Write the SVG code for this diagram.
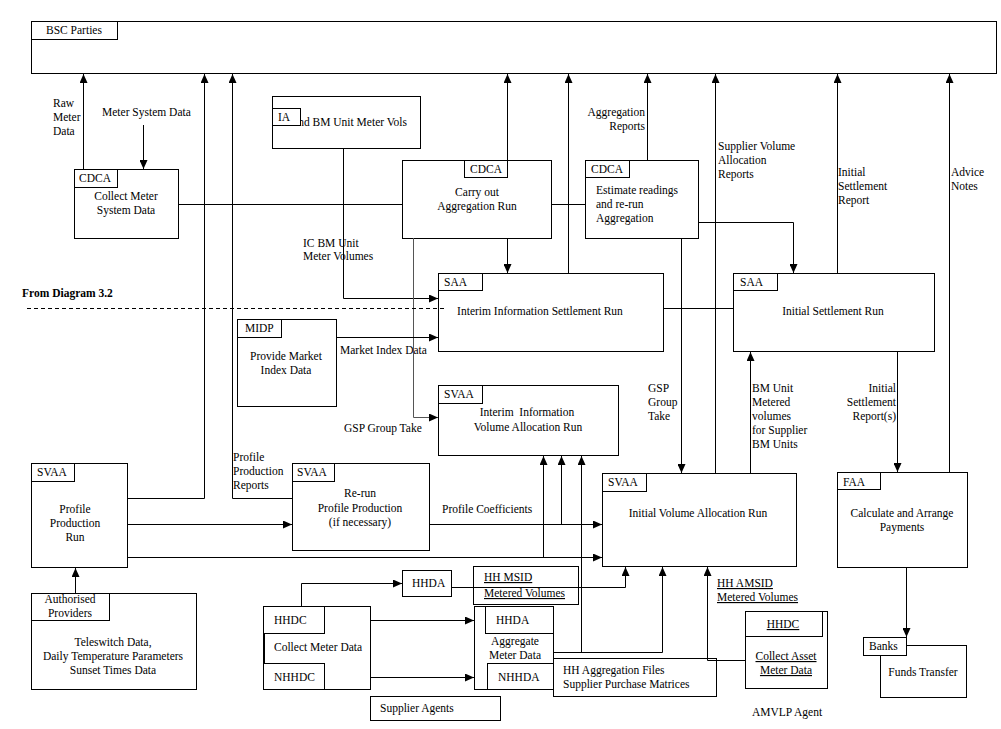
<svg xmlns="http://www.w3.org/2000/svg" width="1001" height="729" viewBox="0 0 1001 729">
<style>
text{font-family:"Liberation Serif","Times New Roman",serif;font-size:11.5px;fill:#000}
.c{text-anchor:middle}
.e{text-anchor:end}
.u{text-decoration:underline}
.b{font-weight:bold}
rect{fill:#fff;stroke:#000;stroke-width:1}
.ln{fill:none;stroke:#000;stroke-width:1}
.gr{stroke:#555}
.ar{marker-end:url(#ah)}
.ds{stroke-dasharray:4 3}
</style>
<defs>
<marker id="ah" markerWidth="9" markerHeight="8" refX="9" refY="4" orient="auto" markerUnits="userSpaceOnUse"><path d="M0,0 L9,4 L0,8 z" fill="#000"/></marker>
</defs>
<rect x="0" y="0" width="1001" height="729" style="stroke:none"/>

<g id="bsc"><rect x="31.5" y="21.5" width="965" height="52"/><rect x="31.5" y="21.5" width="86" height="18"/><text x="46" y="34">BSC Parties</text></g>

<g id="collect-meter-system"><rect x="74.5" y="169.5" width="104" height="69"/><rect x="74.5" y="169.5" width="43" height="18"/><text x="79" y="182">CDCA</text><text class="c" x="126" y="200">Collect Meter</text><text class="c" x="126" y="214">System Data</text></g>

<g id="ia"><rect x="272.5" y="96.5" width="148" height="52"/><text class="e" x="407" y="126">nd BM Unit Meter Vols</text><rect x="272.5" y="108.5" width="28" height="17"/><text x="278" y="121">IA</text></g>

<g id="carry-out"><rect x="402.5" y="160.5" width="149" height="78"/><rect x="464.5" y="160.5" width="43" height="17"/><text x="470" y="173">CDCA</text><text class="c" x="477" y="196">Carry out</text><text class="c" x="477" y="210">Aggregation Run</text></g>

<g id="estimate"><rect x="585.5" y="160.5" width="113" height="78"/><rect x="585.5" y="160.5" width="44" height="17"/><text x="591" y="173">CDCA</text><text x="596" y="194">Estimate readings</text><text x="596" y="208">and re-run</text><text x="596" y="222">Aggregation</text></g>

<g id="saa-interim"><rect x="438.5" y="273.5" width="225" height="78"/><rect x="438.5" y="273.5" width="44" height="17"/><text x="444" y="286">SAA</text><text class="c" x="540" y="315">Interim Information Settlement Run</text></g>

<g id="saa-initial"><rect x="733.5" y="273.5" width="201" height="78"/><rect x="733.5" y="273.5" width="44" height="17"/><text x="740" y="286">SAA</text><text class="c" x="833" y="315">Initial Settlement Run</text></g>

<g id="midp"><rect x="237.5" y="319.5" width="99" height="87"/><rect x="237.5" y="319.5" width="44" height="18"/><text x="245" y="332">MIDP</text><text class="c" x="286" y="360">Provide Market</text><text class="c" x="286" y="374">Index Data</text></g>

<g id="svaa-interim"><rect x="438.5" y="385.5" width="180" height="70"/><rect x="438.5" y="385.5" width="44" height="18"/><text x="444" y="398">SVAA</text><text class="c" x="527" y="416" xml:space="preserve">Interim  Information</text><text class="c" x="528" y="431">Volume Allocation Run</text></g>

<g id="profile-production"><rect x="31.5" y="463.5" width="96" height="104"/><rect x="31.5" y="463.5" width="43" height="18"/><text x="37" y="476">SVAA</text><text class="c" x="75" y="513">Profile</text><text class="c" x="75" y="527">Production</text><text class="c" x="75" y="541">Run</text></g>

<g id="rerun-profile"><rect x="292.5" y="463.5" width="137" height="87"/><rect x="292.5" y="463.5" width="42" height="18"/><text x="297" y="476">SVAA</text><text class="c" x="360" y="497">Re-run</text><text class="c" x="360" y="512">Profile Production</text><text class="c" x="360" y="526">(if necessary)</text></g>

<g id="svaa-initial"><rect x="602.5" y="473.5" width="194" height="93"/><rect x="602.5" y="473.5" width="44" height="18"/><text x="608" y="486">SVAA</text><text class="c" x="698" y="517">Initial Volume Allocation Run</text></g>

<g id="faa"><rect x="837.5" y="472.5" width="130" height="95"/><rect x="837.5" y="472.5" width="43" height="17"/><text x="843" y="486">FAA</text><text class="c" x="902" y="517">Calculate and Arrange</text><text class="c" x="902" y="531">Payments</text></g>

<g id="banks"><rect x="880.5" y="645.5" width="86" height="52"/><rect x="863.5" y="637.5" width="43" height="18"/><text x="869" y="650">Banks</text><text class="c" x="923" y="676">Funds Transfer</text></g>

<g id="authorised-providers"><rect x="31.5" y="593.5" width="165" height="96"/><rect x="31.5" y="593.5" width="78" height="27"/><text class="c" x="70" y="603">Authorised</text><text class="c" x="70" y="617">Providers</text><text class="c" x="113" y="646">Teleswitch Data,</text><text class="c" x="113" y="660">Daily Temperature Parameters</text><text class="c" x="113" y="674">Sunset Times Data</text></g>

<g id="hhda-top"><rect x="402.5" y="570.5" width="49" height="26"/><text x="412" y="587">HHDA</text></g>

<g id="hh-msid"><rect x="473.5" y="566.5" width="105" height="38"/><text class="u" x="484" y="581">HH MSID</text><text class="u" x="484" y="597">Metered Volumes</text></g>

<g id="collect-meter-data"><rect x="263.5" y="606.5" width="107" height="83"/><line x1="264.5" y1="606" x2="264.5" y2="690" class="ln"/><rect x="263.5" y="606.5" width="61" height="27"/><rect x="263.5" y="663.5" width="61" height="26"/><text x="274" y="624">HHDC</text><text x="274" y="651">Collect Meter Data</text><text x="274" y="681">NHHDC</text></g>

<g id="aggregate-meter-data"><rect x="474.5" y="606.5" width="79" height="83"/><rect x="485.5" y="606.5" width="68" height="27"/><rect x="487.5" y="663.5" width="66" height="26"/><text x="496" y="624">HHDA</text><text class="c" x="515" y="645">Aggregate</text><text class="c" x="515" y="659">Meter Data</text><text x="498" y="681">NHHDA</text></g>

<g id="hh-aggregation-files"><rect x="553.5" y="658.5" width="163" height="38"/><text x="563" y="674">HH Aggregation Files</text><text x="563" y="688">Supplier Purchase Matrices</text></g>

<g id="supplier-agents"><rect x="370.5" y="696.5" width="130" height="24"/><text x="380" y="712">Supplier Agents</text></g>

<g id="collect-asset"><rect x="745.5" y="611.5" width="82" height="77"/><rect x="745.5" y="611.5" width="77" height="25"/><text class="c u" x="783" y="628">HHDC</text><text class="c u" x="786" y="660">Collect Asset</text><text class="c u" x="786" y="674">Meter Data</text></g>

<g id="amvlp"><text x="752" y="716">AMVLP Agent</text></g>

<g id="labels">
<text x="53" y="107">Raw</text><text x="53" y="121">Meter</text><text x="53" y="135">Data</text>
<text x="102" y="116">Meter System Data</text>
<text class="e" x="645" y="116">Aggregation</text><text class="e" x="645" y="130">Reports</text>
<text x="718" y="150">Supplier Volume</text><text x="718" y="164">Allocation</text><text x="718" y="178">Reports</text>
<text x="838" y="176">Initial</text><text x="838" y="190">Settlement</text><text x="838" y="204">Report</text>
<text x="951" y="176">Advice</text><text x="951" y="190">Notes</text>
<text x="303" y="247">IC BM Unit</text><text x="303" y="260">Meter Volumes</text>
<text class="b" x="22" y="297">From Diagram 3.2</text>
<text x="340" y="354">Market Index Data</text>
<text x="344" y="432">GSP Group Take</text>
<text x="648" y="392">GSP</text><text x="648" y="406">Group</text><text x="648" y="420">Take</text>
<text x="752" y="392">BM Unit</text><text x="752" y="406">Metered</text><text x="752" y="420">volumes</text><text x="752" y="434">for Supplier</text><text x="752" y="448">BM Units</text>
<text class="e" x="896" y="392">Initial</text><text class="e" x="896" y="406">Settlement</text><text class="e" x="896" y="420">Report(s)</text>
<text x="233" y="461">Profile</text><text x="233" y="475">Production</text><text x="233" y="489">Reports</text>
<text x="442" y="513">Profile Coefficients</text>
<text class="u" x="717" y="587">HH AMSID</text><text class="u" x="717" y="601">Metered Volumes</text>
</g>

<g id="connectors">
<path class="ln ar" d="M83.5,169 V74"/>
<path class="ln ar" d="M143.5,125 V169"/>
<path class="ln" d="M178,204.5 H402"/>
<path class="ln ar" d="M127,498.5 H204.5 V74"/>
<path class="ln ar" d="M292,498.5 H232.5 V74"/>
<path class="ln ar" d="M343.5,148 V298.5 H438"/>
<path class="ln ar" d="M507.5,160 V74"/>
<path class="ln ar" d="M507.5,238 V273"/>
<path class="ln gr ar" d="M413.5,238 V417.5 H438"/>
<path class="ln" d="M551,204.5 H585"/>
<path class="ln ar" d="M568.5,273 V74"/>
<path class="ln ar" d="M647.5,160 V74"/>
<path class="ln ar" d="M698,222.5 H793.5 V273"/>
<path class="ln ar" d="M681.5,238 V473"/>
<path class="ln ar" d="M715.5,473 V74"/>
<path class="ln" d="M663,308.5 H733"/>
<path class="ln ar" d="M837.5,273 V74"/>
<path class="ln ar" d="M949.5,472 V74"/>
<path class="ln ar" d="M897.5,351 V472"/>
<path class="ln ar" d="M750.5,473 V352"/>
<path class="ln ar" d="M336,337.5 H438"/>
<path class="ln ds" d="M27,308.5 H445"/>
<path class="ln ar" d="M127,524.5 H292"/>
<path class="ln ar" d="M429,524.5 H602"/>
<path class="ln ar" d="M561.5,524 V456"/>
<path class="ln ar" d="M127,557.5 H602"/>
<path class="ln ar" d="M543.5,557 V456"/>
<path class="ln ar" d="M75.5,593 V568"/>
<path class="ln ar" d="M301.5,606 V583.5 H402"/>
<path class="ln ar" d="M451,587.5 H625.5 V567"/>
<path class="ln ar" d="M370,620.5 H474"/>
<path class="ln ar" d="M370,677.5 H474"/>
<path class="ln ar" d="M553,652.5 H662.5 V567"/>
<path class="ln ar" d="M581.5,652 V456"/>
<path class="ln ar" d="M745,660.5 H707.5 V567"/>
<path class="ln ar" d="M906.5,567 V637"/>
</g>
</svg>
